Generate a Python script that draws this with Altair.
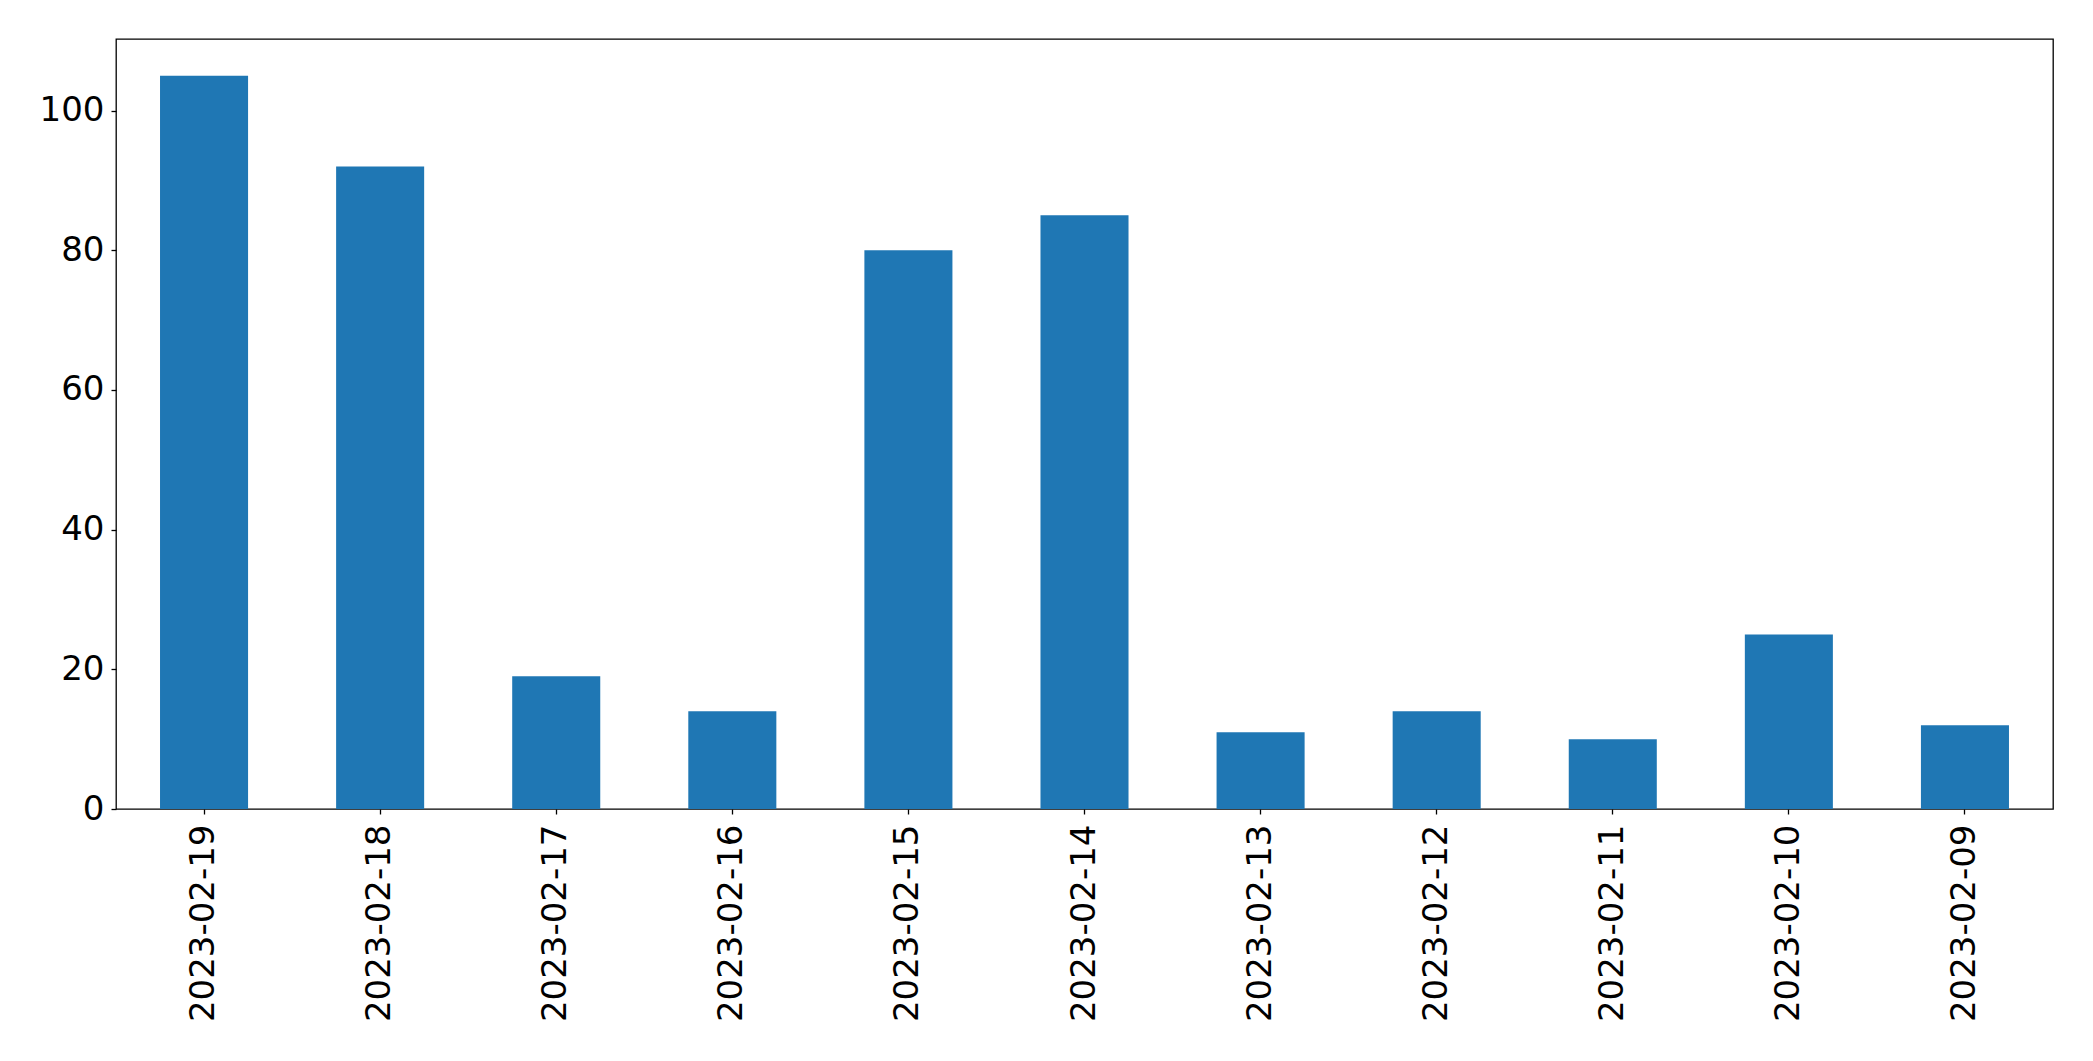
import altair as alt
import pandas as pd

dates = ["2023-02-19", "2023-02-18", "2023-02-17", "2023-02-16", "2023-02-15",
         "2023-02-14", "2023-02-13", "2023-02-12", "2023-02-11", "2023-02-10",
         "2023-02-09"]
counts = [105, 92, 19, 14, 80, 85, 11, 14, 10, 25, 12]
y_ticks = [0, 20, 40, 60, 80, 100]

df = pd.DataFrame({"date": dates, "count": counts})

chart = alt.Chart(df).mark_bar(color="#1f77b4").encode(
    x=alt.X("date:N", sort=dates, title=None,
            scale=alt.Scale(paddingInner=0.5, paddingOuter=0.25),
            axis=alt.Axis(labelAngle=-90, labelAlign="right", labelBaseline="middle",
                          labelFontSize=34, labelFont="DejaVu Sans", labelColor="black",
                          labelLimit=0,
                          tickSize=5, tickColor="black", tickWidth=1.3,
                          domain=False, labelPadding=10)),
    y=alt.Y("count:Q", title=None,
            scale=alt.Scale(domain=[0, 110.25], nice=False, zero=True),
            axis=alt.Axis(values=y_ticks, labelFontSize=34, labelFont="DejaVu Sans",
                          labelColor="black", tickSize=5, tickColor="black", tickWidth=1.3,
                          domain=False, grid=False, labelPadding=7)),
).properties(
    width=1937, height=770,
    background="white",
    autosize=alt.AutoSizeParams(type="none"),
    padding={"left": 108, "top": 31, "right": 32, "bottom": 230},
).configure_view(
    stroke="black", strokeWidth=1.3, fill="white"
)

chart.save("out.html", embed_options={"renderer": "svg", "actions": False})
